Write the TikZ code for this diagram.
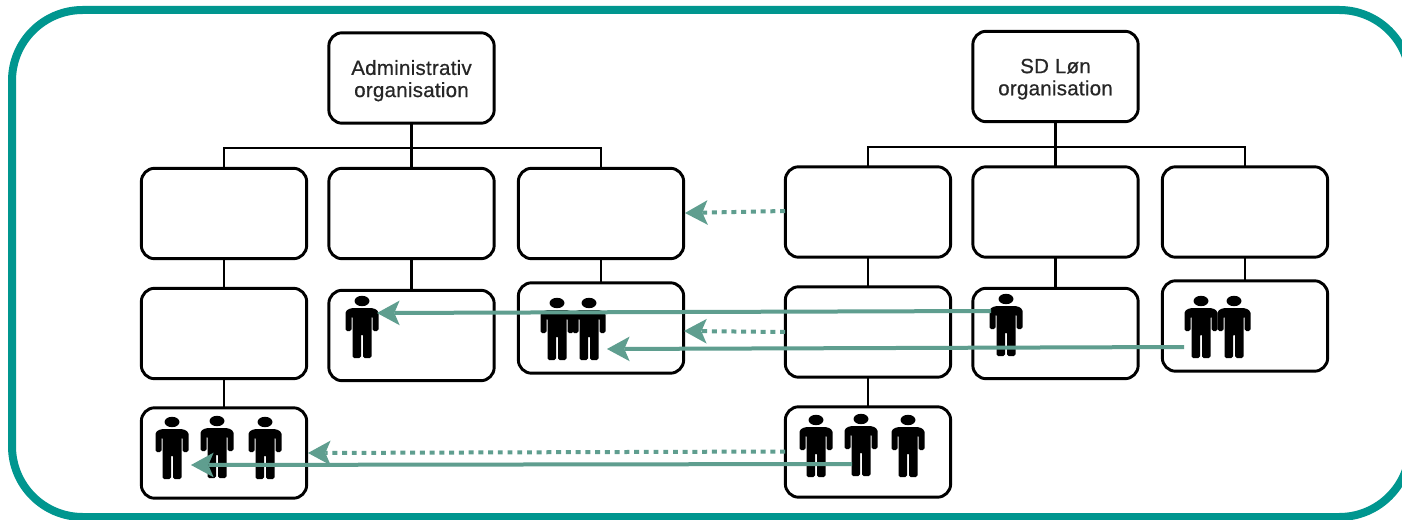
\documentclass[tikz,border=0pt]{standalone}
\usepackage{fontspec}
\setmainfont{Liberation Sans}
\newfontfamily\orgfont{Liberation Sans}[FakeBold=0.6,LetterSpace=1.2]
\newcommand{\lowered}[1]{\raisebox{-2pt}[\height][\depth]{#1}}
\usetikzlibrary{arrows.meta}
\definecolor{frameteal}{HTML}{00968F}
\definecolor{linkgreen}{HTML}{5F9E8F}
\tikzset{
  orgbox/.style={draw=black,fill=white,line width=2.2pt,rounded corners=10pt,outer sep=0pt,inner sep=0pt,
    minimum width=124pt,minimum height=67.8pt,align=center,text=black!85,
    font=\orgfont\fontsize{15.4pt}{16.6pt}\selectfont},
  orgline/.style={draw=black,line width=2.2pt},
  realmove/.style={draw=linkgreen,line width=3pt,-{Stealth[length=17pt,width=18.5pt,inset=4pt,line width=0pt]}},
  plannedmove/.style={draw=linkgreen,line width=3pt,dash pattern=on 3.7pt off 3.6pt,-{Stealth[length=17pt,width=18.5pt,inset=4pt,line width=0pt]}},
  pics/person/.style={code={
    \fill (0,5) ellipse [x radius=5.6pt,y radius=3.9pt];
    \fill[rounded corners=1.3pt] (-11,12) -- (11,12) -- (16.5,15) -- (16.5,35) -- (10.5,35) -- (10.5,20) -- (9.5,20)
      -- (9.5,62) -- (1,62) -- (1,38) -- (-1,38) -- (-1,62) -- (-9.5,62) -- (-9.5,20) -- (-10.5,20)
      -- (-10.5,35) -- (-16.5,35) -- (-16.5,15) -- cycle;
  }}
}
\begin{document}
\begin{tikzpicture}[x=.75pt,y=-.75pt]
\useasboundingbox (0,0) rectangle (1402,520);
\fill[white] (0,0) rectangle (1402,520);
\clip (0,0) rectangle (1402,520);
\draw[draw=frameteal,line width=6pt,rounded corners=53pt] (12,10) rectangle (1410,517);

% junction points of the two trees
\coordinate (busA) at (411,148);
\coordinate (busB) at (1055,147);

% administrative organisation
\node[orgbox] (admin) at (411.5,78) {\lowered{Administrativ}\\\lowered{organisation}};
\node[orgbox] (a1) at (224,213.5) {};
\node[orgbox] (a2) at (411.5,213.5) {};
\node[orgbox] (a3) at (601,213.5) {};
\node[orgbox] (a4) at (224,333.5) {};
\node[orgbox] (a5) at (411.5,335.5) {};
\node[orgbox] (a6) at (601,328) {};
\node[orgbox] (a7) at (224,453) {};

% SD Løn organisation
\node[orgbox] (sd) at (1055.5,76.5) {\lowered{SD Løn}\\\lowered{organisation}};
\node[orgbox] (b1) at (868,212) {};
\node[orgbox] (b2) at (1055.5,212) {};
\node[orgbox] (b3) at (1245,212) {};
\node[orgbox] (b4) at (868,332) {};
\node[orgbox] (b5) at (1055.5,333.5) {};
\node[orgbox] (b6) at (1245,326) {};
\node[orgbox] (b7) at (868,452) {};

% tree connectors
\draw[orgline] (admin.south) -- (a2.north);
\draw[orgline] (a1.north) -- (a1.north |- busA) -- (a3.north |- busA) -- (a3.north);
\draw[orgline] (a1.south) -- (a4.north);
\draw[orgline] (a2.south) -- (a5.north);
\draw[orgline] (a3.south) -- (a6.north);
\draw[orgline] (a4.south) -- (a7.north);
\draw[orgline] (sd.south) -- (b2.north);
\draw[orgline] (b1.north) -- (b1.north |- busB) -- (b3.north |- busB) -- (b3.north);
\draw[orgline] (b1.south) -- (b4.north);
\draw[orgline] (b2.south) -- (b5.north);
\draw[orgline] (b3.south) -- (b6.north);
\draw[orgline] (b4.south) -- (b7.north);

% people
\pic at (362,296) {person};
\pic at (557,298) {person};
\pic at (589,298) {person};
\pic at (172,417) {person};
\pic at (217,416) {person};
\pic at (265,417) {person};
\pic at (1006,294) {person};
\pic at (1201,296) {person};
\pic at (1234,296) {person};
\pic at (816,415) {person};
\pic at (861,414) {person};
\pic at (908,415) {person};

% ends of the moves
\coordinate (s1) at (991,311);
\coordinate (t1) at (377,313);
\coordinate (s2) at (1184,347);
\coordinate (t2) at (607,349);
\coordinate (s3) at (852,464);
\coordinate (t3) at (191,465);
\coordinate (d1s) at (785,211);
\coordinate (d1t) at (685,213);
\coordinate (d2s) at (785,332);
\coordinate (d2t) at (684,331);
\coordinate (d3s) at (785,451.5);
\coordinate (d3t) at (308,453);

\draw[plannedmove] (d1s) -- (d1t);
\draw[plannedmove] (d2s) -- (d2t);
\draw[plannedmove] (d3s) -- (d3t);
\draw[realmove] (s1) -- (t1);
\draw[realmove] (s2) -- (t2);
\draw[realmove] (s3) -- (t3);
\end{tikzpicture}
\end{document}
